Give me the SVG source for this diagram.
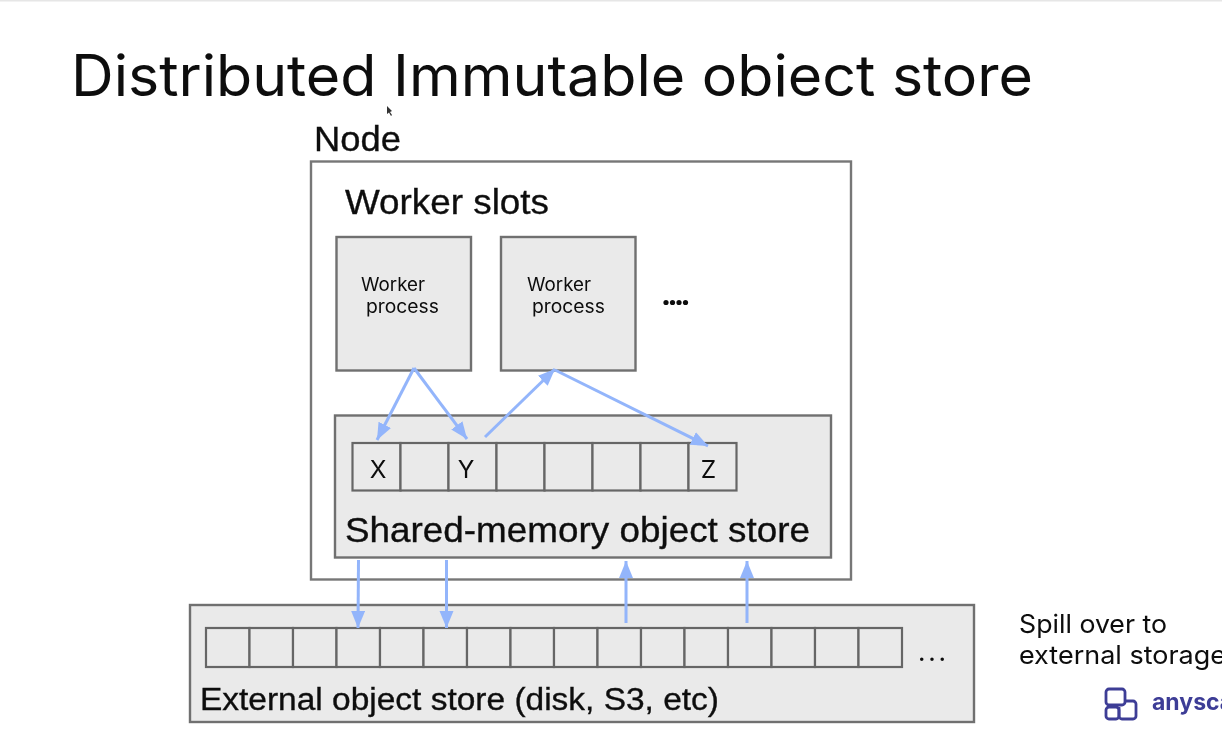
<svg xmlns="http://www.w3.org/2000/svg" width="1222" height="737" viewBox="0 0 1222 737">
<defs>
<marker id="ah" markerUnits="userSpaceOnUse" markerWidth="18" markerHeight="15" refX="17" refY="7" orient="auto"><path d="M0 0L17 7L0 14Z" fill="#93b5fb"/></marker>
<clipPath id="titleclip"><rect x="60" y="40" width="1000" height="56.500"/></clipPath>
<filter id="soft" filterUnits="userSpaceOnUse" x="0" y="0" width="1222" height="737"><feGaussianBlur stdDeviation="0.45"/></filter>
</defs>
<style>
.box{fill:#eaeaea;stroke:#6f6f6f;stroke-width:2.4}
.cell{fill:#eaeaea;stroke:#666;stroke-width:2.2}
.a{font-family:"Liberation Sans",Arial,sans-serif;fill:#111;stroke:#111;stroke-width:.35}
.p{font-family:"Inter","Noto Sans",sans-serif;fill:#0c0c0c}
.c{stroke:#93b5fb;stroke-width:3;fill:none;marker-end:url(#ah)}
</style>
<rect width="1222" height="737" fill="#fff"/>
<rect width="1222" height="1.500" fill="#e6e6e6"/>
<g filter="url(#soft)">
<g id="title" clip-path="url(#titleclip)"><text class="p" x="71" y="96" font-size="57" textLength="962" lengthAdjust="spacingAndGlyphs">Distributed Immutable object store</text></g>
<path id="cursor" d="M387 106L387 114L389 112.500L391 116L392 115L390 112L392 111Z" fill="#333"/>
<g id="node">
<text class="a" x="314" y="151" font-size="35" textLength="87" lengthAdjust="spacingAndGlyphs">Node</text>
<rect x="311" y="161.500" width="540" height="418" fill="#fff" stroke="#777" stroke-width="2.400"/>
<text class="a" x="345" y="214" font-size="35" textLength="204" lengthAdjust="spacingAndGlyphs">Worker slots</text>
</g>
<g id="worker1">
<rect class="box" x="336.500" y="237" width="134.500" height="133.500"/>
<text class="p" x="361" y="291" font-size="18.500" textLength="64" lengthAdjust="spacingAndGlyphs">Worker</text>
<text class="p" x="366" y="313" font-size="18.500" textLength="73" lengthAdjust="spacingAndGlyphs">process</text>
</g>
<g id="worker2">
<rect class="box" x="501" y="237" width="134.500" height="133.500"/>
<text class="p" x="527" y="291" font-size="18.500" textLength="64" lengthAdjust="spacingAndGlyphs">Worker</text>
<text class="p" x="532" y="313" font-size="18.500" textLength="73" lengthAdjust="spacingAndGlyphs">process</text>
</g>
<g id="ellipsis1" fill="#111"><circle cx="666" cy="302.500" r="2.600"/><circle cx="672.500" cy="302.500" r="2.600"/><circle cx="679" cy="302.500" r="2.600"/><circle cx="685.500" cy="302.500" r="2.600"/></g>
<g id="shared-store">
<rect class="box" x="335" y="415.500" width="496" height="142"/>
<g id="shared-cells">
<rect class="cell" x="352.500" y="443" width="48" height="47.500"/>
<rect class="cell" x="400.500" y="443" width="48" height="47.500"/>
<rect class="cell" x="448.500" y="443" width="48" height="47.500"/>
<rect class="cell" x="496.500" y="443" width="48" height="47.500"/>
<rect class="cell" x="544.500" y="443" width="48" height="47.500"/>
<rect class="cell" x="592.500" y="443" width="48" height="47.500"/>
<rect class="cell" x="640.500" y="443" width="48" height="47.500"/>
<rect class="cell" x="688.500" y="443" width="48" height="47.500"/>
</g>
<text class="p" x="378" y="478" font-size="24.500" text-anchor="middle">X</text>
<text class="p" x="466" y="478" font-size="24.500" text-anchor="middle">Y</text>
<text class="p" x="708.500" y="478" font-size="24.500" text-anchor="middle">Z</text>
<text class="a" x="345" y="542" font-size="35" textLength="465" lengthAdjust="spacingAndGlyphs">Shared-memory object store</text>
</g>
<g id="external-store">
<rect class="box" x="190" y="605" width="784" height="117"/>
<g id="external-cells">
<rect class="cell" x="206" y="628" width="43.500" height="39"/>
<rect class="cell" x="249.500" y="628" width="43.500" height="39"/>
<rect class="cell" x="293" y="628" width="43.500" height="39"/>
<rect class="cell" x="336.500" y="628" width="43.500" height="39"/>
<rect class="cell" x="380" y="628" width="43.500" height="39"/>
<rect class="cell" x="423.500" y="628" width="43.500" height="39"/>
<rect class="cell" x="467" y="628" width="43.500" height="39"/>
<rect class="cell" x="510.500" y="628" width="43.500" height="39"/>
<rect class="cell" x="554" y="628" width="43.500" height="39"/>
<rect class="cell" x="597.500" y="628" width="43.500" height="39"/>
<rect class="cell" x="641" y="628" width="43.500" height="39"/>
<rect class="cell" x="684.500" y="628" width="43.500" height="39"/>
<rect class="cell" x="728" y="628" width="43.500" height="39"/>
<rect class="cell" x="771.500" y="628" width="43.500" height="39"/>
<rect class="cell" x="815" y="628" width="43.500" height="39"/>
<rect class="cell" x="858.500" y="628" width="43.500" height="39"/>
</g>
<text class="a" x="200" y="710" font-size="31" textLength="519" lengthAdjust="spacingAndGlyphs">External object store (disk, S3, etc)</text>
<text class="p" x="918" y="661" font-size="26" textLength="28">...</text>
</g>
<g id="connectors">
<line class="c" x1="414" y1="368" x2="377" y2="440"/>
<line class="c" x1="414" y1="368" x2="467" y2="439"/>
<line class="c" x1="485" y1="437" x2="555" y2="369"/>
<line class="c" x1="555" y1="370" x2="708" y2="446"/>
<line class="c" x1="358.500" y1="560" x2="358" y2="628"/>
<line class="c" x1="446.500" y1="560" x2="446.500" y2="628"/>
<line class="c" x1="626" y1="623" x2="626" y2="561"/>
<line class="c" x1="747" y1="623" x2="747" y2="561"/>
</g>
<g id="note">
<text class="p" x="1019" y="633" font-size="25.500" textLength="148" lengthAdjust="spacingAndGlyphs">Spill over to</text>
<text class="p" x="1019" y="664" font-size="25.500" textLength="207" lengthAdjust="spacingAndGlyphs">external storage</text>
</g>
<g id="logo">
<g fill="none" stroke="#3d3c96" stroke-width="2.800">
<rect x="1106" y="689" width="19" height="16" rx="3"/>
<rect x="1106" y="707" width="13" height="12" rx="3"/>
<path d="M1125 701H1133a3 3 0 0 1 3 3V716a3 3 0 0 1 -3 3H1122a3 3 0 0 1 -3 -3V707"/>
</g>
<text x="1152" y="710" font-size="23" font-weight="700" font-family="Inter,'Noto Sans',sans-serif" fill="#3d3c96">anyscale</text>
</g>
</g>
</svg>
